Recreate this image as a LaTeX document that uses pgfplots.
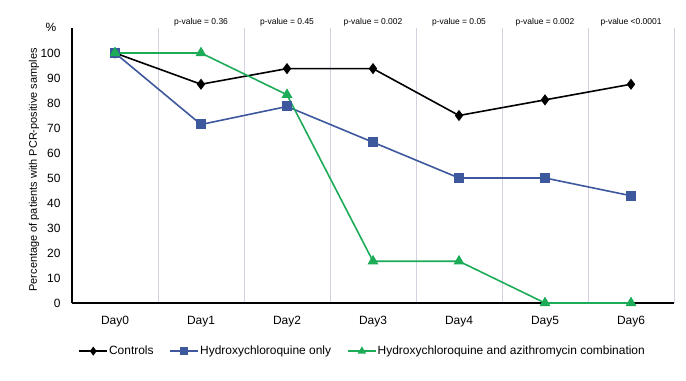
\documentclass[border=0pt]{standalone}
\usepackage{pgfplots}
\pgfplotsset{compat=1.18}
\usepackage{fontspec}
\setmainfont{Liberation Sans}
\definecolor{ctrl}{RGB}{0,0,0}
\definecolor{hcq}{RGB}{62,88,158}
\definecolor{combo}{RGB}{28,172,88}
\definecolor{gridc}{RGB}{214,208,224}
\begin{document}
\begin{tikzpicture}
\begin{axis}[
  scale only axis,
  width=602bp, height=275bp,
  xmin=-0.5, xmax=6.5, ymin=0, ymax=110,
  axis x line*=bottom, axis y line*=left,
  axis line style={black, line width=1.2bp},
  xtick={0,1,2,3,4,5,6},
  xticklabels={Day0,Day1,Day2,Day3,Day4,Day5,Day6},
  minor xtick={0.5,1.5,2.5,3.5,4.5,5.5,6.5},
  xminorgrids=true,
  minor grid style={gridc, line width=0.8bp},
  major tick length=0pt, minor tick length=0pt,
  ytick={0,10,20,30,40,50,60,70,80,90,100},
  tick label style={font=\fontsize{12}{14}\selectfont},
  xticklabel style={yshift=-10bp},
  yticklabel style={xshift=-8bp},
  /pgf/number format/assume math mode=true,
  ylabel={Percentage of patients with PCR-positive samples},
  ylabel style={font=\fontsize{11}{13}\selectfont, at={(axis description cs:-0.063,0.484)}, anchor=center},
  clip=false,
  legend style={draw=none, fill=none, at={(axis description cs:0.482,-0.175)}, anchor=center,
    legend columns=3, font=\fontsize{12}{14}\selectfont,
    nodes={inner sep=1bp},
    /tikz/every odd column/.append style={column sep=0bp},
    /tikz/every even column/.append style={column sep=15bp}},
  legend image code/.code={
    \draw[mark repeat=2, mark phase=2, line width=1.6bp, mark size=3.2bp]
      plot coordinates {(0bp,0bp) (14bp,0bp) (28bp,0bp)};},
]
\addplot[ctrl, line width=1.6bp, mark=diamond*, mark size=4.3bp] coordinates {
(0,100) (1,87.5) (2,93.75) (3,93.75) (4,75) (5,81.25) (6,87.5)};
\addlegendentry{Controls}
\addplot[hcq, line width=1.6bp, mark=square*, mark size=4.2bp] coordinates {
(0,100) (1,71.4) (2,78.6) (3,64.3) (4,50) (5,50) (6,42.9)};
\addlegendentry{Hydroxychloroquine only}
\addplot[combo, line width=1.6bp, mark=triangle*, mark size=4.8bp] coordinates {
(0,100) (1,100) (2,83.3) (3,16.7) (4,16.7) (5,0) (6,0)};
\addlegendentry{Hydroxychloroquine and azithromycin combination}
\foreach \i/\t in {1/{p-value = 0.36},2/{p-value = 0.45},3/{p-value = 0.002},4/{p-value = 0.05},5/{p-value = 0.002},6/{p-value <0.0001}}{
  \edef\temp{\noexpand\node[font=\noexpand\fontsize{8.5}{10}\noexpand\selectfont, anchor=south, inner sep=1bp, yshift=1bp] at (axis cs:\i,110) {\t};}
  \temp
}
\node[font=\fontsize{12}{14}\selectfont] at ([xshift=-21bp,yshift=1bp]rel axis cs:0,1) {\%};
\end{axis}
\path (current axis.south west) ++(-72bp,303bp) rectangle ++(686bp,-381bp);
\end{tikzpicture}
\end{document}
